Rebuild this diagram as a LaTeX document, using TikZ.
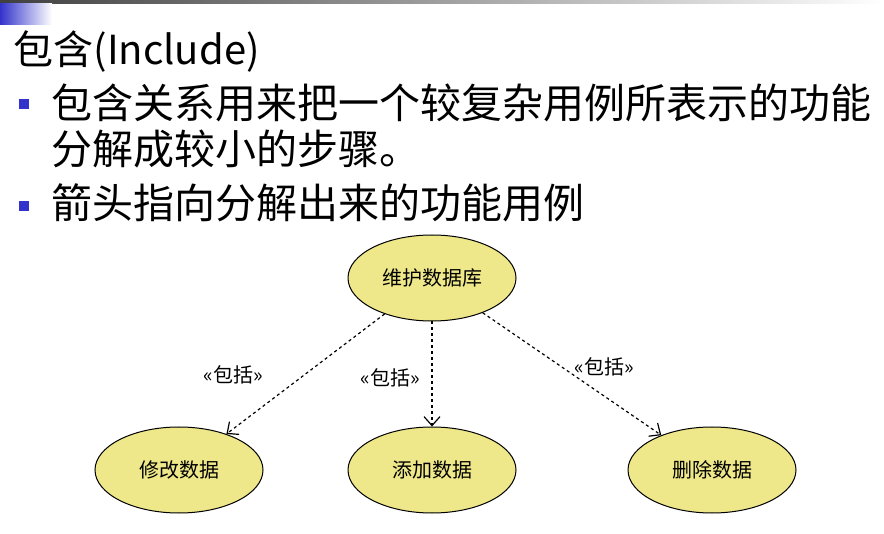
\documentclass[tikz,border=0pt]{standalone}
\usepackage{fontspec}
\setmainfont{DejaVu Sans}
\newfontfamily\cjk{Noto Sans CJK SC}
\usetikzlibrary{shapes.geometric,arrows.meta}
\definecolor{ucfill}{HTML}{EEE88A}
\definecolor{bulletblue}{HTML}{3333CC}
\tikzset{
  usecase/.style = {draw, ellipse, fill=ucfill, line width=1pt,
    minimum width=168pt, minimum height=86pt, font=\cjk\fontsize{20}{22}\selectfont},
  incl/.style = {dashed, line width=1.2pt, -{Straight Barb[length=9pt,width=16pt]}},
  stereo/.style = {font=\cjk\fontsize{20}{22}\selectfont},
  bullet/.style = {fill=bulletblue, minimum size=10pt, inner sep=0pt},
  bodytext/.style = {anchor=west, align=left, font=\cjk\fontsize{41}{46}\selectfont}
}
\begin{document}
\begin{tikzpicture}[x=1pt, y=-1pt]
  \useasboundingbox (0,0) rectangle (884,534);
  % slide decoration
  \shade[left color=black!75, right color=white] (0,0) rectangle (884,4);
  \shade[left color=bulletblue, right color=white] (0,4) rectangle (52,25);

  \node[anchor=west, font=\cjk\fontsize{40}{46}\selectfont] (title) at (10,52) {包含(Include)};
  \node[bullet] (b1) at (24,104) {};
  \node[bodytext] (t1) at (48,126) {包含关系用来把一个较复杂用例所表示的功能\\分解成较小的步骤。};
  \node[bullet] (b2) at (24,206) {};
  \node[bodytext] (t2) at (48,203) {箭头指向分解出来的功能用例};

  % use cases
  \node[usecase] (maint) at (432,278) {维护数据库};
  \node[usecase] (modify) at (179,470) {修改数据};
  \node[usecase] (add) at (432,470) {添加数据};
  \node[usecase] (delete) at (712,470) {删除数据};

  \draw[incl] (maint) -- (modify);
  \draw[incl] (maint) -- (add);
  \draw[incl] (maint) -- (delete);

  \node[stereo] (s1) at (233,375) {«包括»};
  \node[stereo] (s2) at (390,378) {«包括»};
  \node[stereo] (s3) at (604,367) {«包括»};
\end{tikzpicture}
\end{document}
